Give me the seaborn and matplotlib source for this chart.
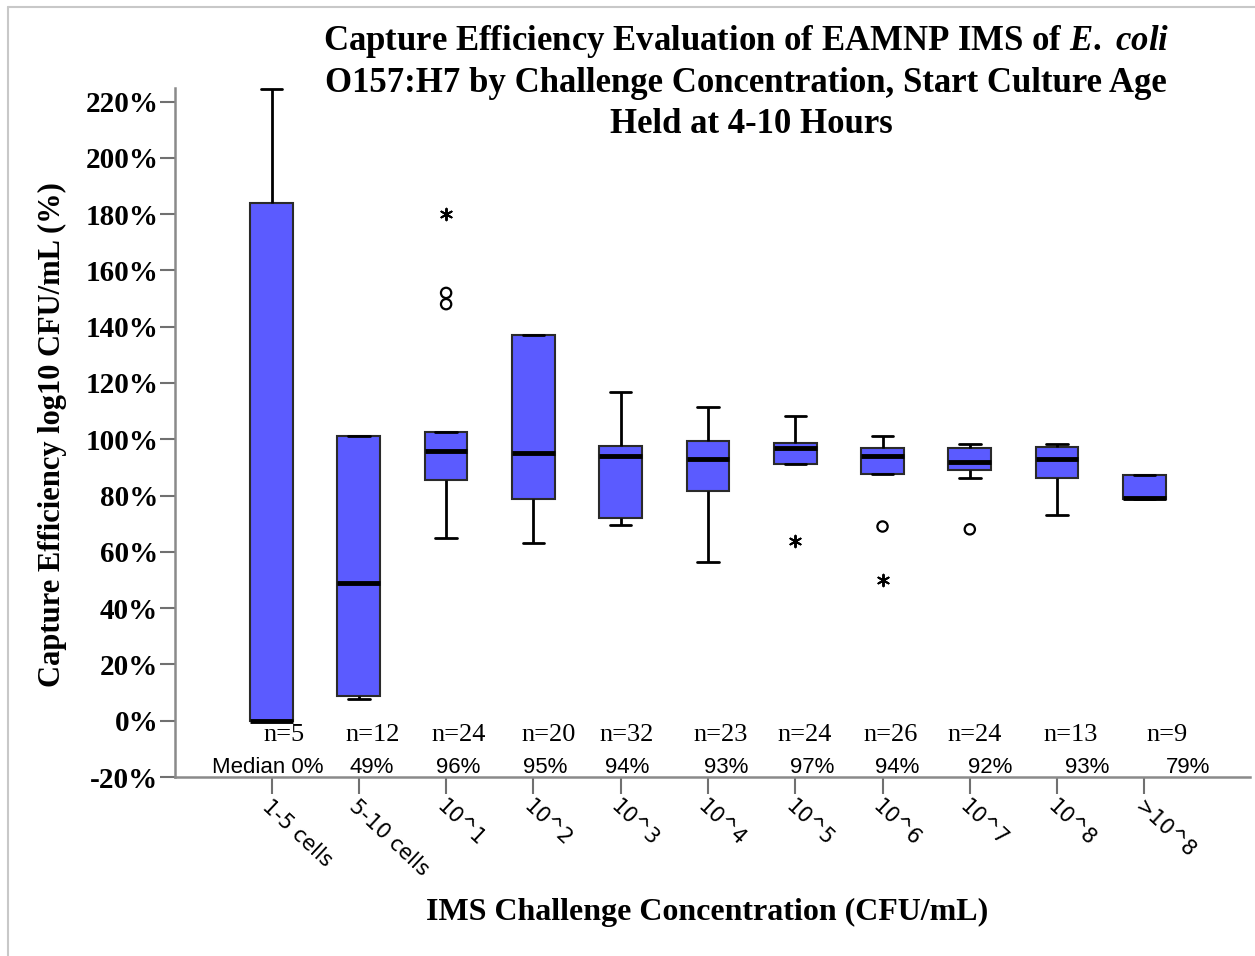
import numpy as np
import pandas as pd
import matplotlib
matplotlib.use("Agg")
import matplotlib.pyplot as plt
import matplotlib.transforms as mtransforms
import seaborn as sns
from matplotlib.lines import Line2D
from matplotlib.ticker import FuncFormatter

# ---------------- data ----------------
categories = ["1-5 cells", "5-10 cells", "10^1", "10^2", "10^3", "10^4",
              "10^5", "10^6", "10^7", "10^8", ">10^8"]
n_obs = [5, 12, 24, 20, 32, 23, 24, 26, 24, 13, 9]
median_pct = [0, 49, 96, 95, 94, 93, 97, 94, 92, 93, 79]
q1_pct = [0, 8.7, 85.5, 78.7, 72.1, 81.7, 91.1, 87.8, 89.2, 86.2, 78.6]
q3_pct = [184, 101.2, 102.5, 137, 97.5, 99.4, 98.5, 96.9, 97.0, 97.2, 87.2]
whisker_low_pct = [0, 7.6, 65, 63, 69.7, 56.5, 91.1, 87.8, 86.2, 73.1, 78.6]
whisker_high_pct = [224.3, 101.2, 102.5, 137, 116.8, 111.5, 108.3, 101, 98.3, 98.3, 87.2]

outlier_cat = ["10^1", "10^1", "10^1", "10^5", "10^6", "10^6", "10^7"]
outlier_pct = [180, 152, 148, 64, 69, 50, 68]
outlier_kind = ["extreme", "mild", "mild", "extreme", "mild", "extreme", "mild"]

y_ticks = [-20, 0, 20, 40, 60, 80, 100, 120, 140, 160, 180, 200, 220]

# layout-only offsets for the annotation texts (category units)
n_dx = [0.14, 0.16, 0.14, 0.17, 0.07, 0.14, 0.11, 0.09, 0.06, 0.15, 0.26]
med_dx = [-0.04, 0.15, 0.14, 0.14, 0.08, 0.21, 0.19, 0.17, 0.23, 0.34, 0.5]

# long-form table built from the five-number summaries
rows = []
for c, lo, a, m, b, hi in zip(categories, whisker_low_pct, q1_pct, median_pct,
                              q3_pct, whisker_high_pct):
    for v in (lo, a, m, b, hi):
        rows.append({"category": c, "value": v})
df = pd.DataFrame(rows)

# ---------------- style ----------------
sns.set_theme(style="white")
plt.rcParams["font.family"] = ["Liberation Serif", "DejaVu Serif"]
plt.rcParams["mathtext.fontset"] = "custom"
plt.rcParams["mathtext.it"] = "Liberation Serif:italic:bold"
plt.rcParams["mathtext.rm"] = "Liberation Serif:bold"
for k in ["text.color", "axes.labelcolor", "xtick.color", "ytick.color"]:
    plt.rcParams[k] = "black"

W, H = 1255, 956
fig = plt.figure(figsize=(W / 100, H / 100), dpi=100)
ax = fig.add_axes([175 / W, 1 - 777 / H, (1250 - 175) / W, (777 - 88) / H])

sns.boxplot(data=df, x="category", y="value", order=categories,
            color="#5b5bff", saturation=1, width=0.49, whis=(0, 100),
            showfliers=False, linecolor="#2a2a2a", linewidth=1.5,
            medianprops=dict(color="black", linewidth=3.5),
            whiskerprops=dict(color="black", linewidth=2),
            capprops=dict(color="black", linewidth=2),
            ax=ax)

pos = {c: i for i, c in enumerate(categories)}
for c, v, k in zip(outlier_cat, outlier_pct, outlier_kind):
    if k == "mild":
        ax.scatter(pos[c], v, s=55, marker="o", facecolors="none",
                   edgecolors="black", linewidths=1.6, zorder=5)
    else:
        ax.scatter(pos[c], v, s=70, marker=(6, 2, 0), color="black",
                   linewidths=1.4, zorder=5)

ax.set_xlim(-1.106, 11.21)
ax.set_ylim(-20, 224.8)
ax.set_yticks(y_ticks)
ax.yaxis.set_major_formatter(FuncFormatter(lambda v, p: f"{v:.0f}%"))
for lab in ax.get_yticklabels():
    lab.set_fontweight("bold")
    lab.set_fontsize(21)
ax.tick_params(axis="y", direction="out", length=11, width=1.5,
               color="#707070", pad=1, left=True)

ax.set_xticks(range(len(categories)))
ax.set_xticklabels(categories, rotation=-43, ha="left", va="top",
                   rotation_mode="anchor", fontsize=15,
                   family="DejaVu Sans")
shift = mtransforms.ScaledTranslation(-6 / 100, 0, fig.dpi_scale_trans)
for lab in ax.get_xticklabels():
    lab.set_transform(lab.get_transform() + shift)
ax.tick_params(axis="x", direction="out", length=12, width=1.5,
               color="#707070", pad=2, bottom=True)
ax.set_xlabel("")
ax.set_ylabel("")

for s in ["top", "right"]:
    ax.spines[s].set_visible(False)
for s in ["left", "bottom"]:
    ax.spines[s].set_color("#8a8a8a")
    ax.spines[s].set_linewidth(1.8)

# n= and median annotations
for i, (n, m) in enumerate(zip(n_obs, median_pct)):
    ax.text(i + n_dx[i], -5.2, f"n={n}", ha="center", va="center",
            fontsize=19, family="Liberation Serif", clip_on=False)
    lab = f"Median {m}%" if i == 0 else f"{m}%"
    ax.text(i + med_dx[i], -16.5, lab, ha="center", va="center",
            fontsize=16, family="Liberation Sans", clip_on=False)

# titles and axis labels
tx = 746 / W
fig.text(tx, 1 - 42 / H,
         r"Capture Efficiency Evaluation of EAMNP IMS of $\mathit{E.\ coli}$",
         ha="center", va="center", fontsize=25, fontweight="bold")
fig.text(tx, 1 - 83 / H,
         "O157:H7 by Challenge Concentration, Start Culture Age",
         ha="center", va="center", fontsize=25, fontweight="bold")
fig.text(751 / W, 1 - 125 / H, "Held at 4-10 Hours",
         ha="center", va="center", fontsize=25, fontweight="bold")
fig.text(52 / W, 1 - 435 / H, "Capture Efficiency log10 CFU/mL (%)",
         rotation=90, ha="center", va="center", fontsize=22,
         fontweight="bold")
fig.text(707 / W, 1 - 912 / H, "IMS Challenge Concentration (CFU/mL)",
         ha="center", va="center", fontsize=23, fontweight="bold")

# light frame lines at the image edges
fig.add_artist(Line2D([8 / W, 1], [1 - 7 / H, 1 - 7 / H],
                      transform=fig.transFigure, color="#c8c8c8", lw=1.5))
fig.add_artist(Line2D([8 / W, 8 / W], [0, 1 - 7 / H],
                      transform=fig.transFigure, color="#c8c8c8", lw=1.5))

fig.savefig("out.png", dpi=100)
